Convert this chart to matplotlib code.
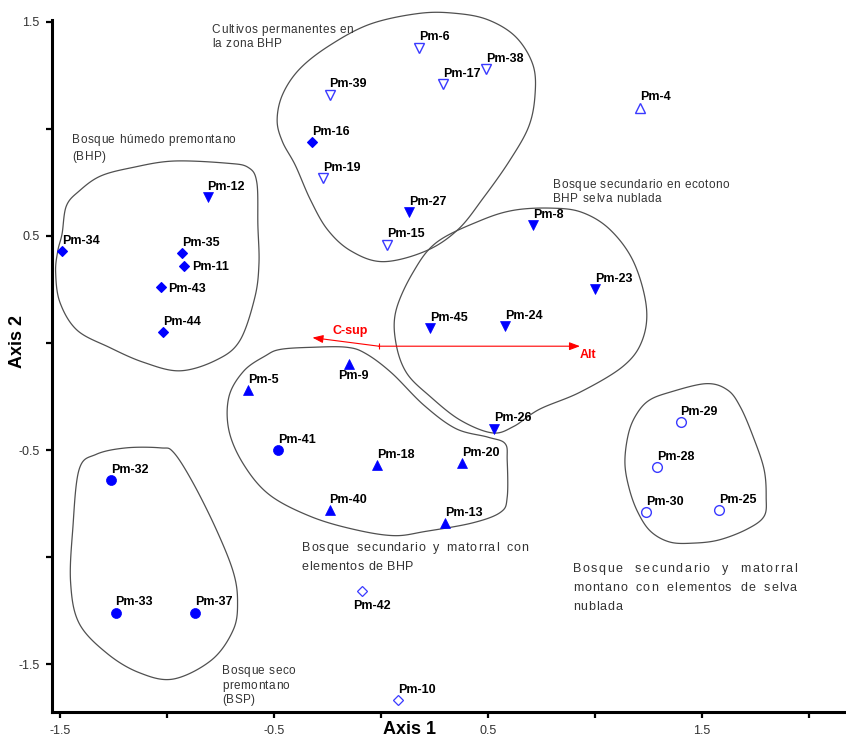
import numpy as np
import matplotlib.pyplot as plt
from matplotlib.patches import Polygon

plt.rcParams['font.family'] = ['Liberation Sans', 'DejaVu Sans']

# sample scores on the two ordination axes
names = ['Pm-34', 'Pm-35', 'Pm-11', 'Pm-43', 'Pm-44', 'Pm-16',
         'Pm-12', 'Pm-27', 'Pm-8', 'Pm-23', 'Pm-45', 'Pm-24', 'Pm-26',
         'Pm-6', 'Pm-38', 'Pm-17', 'Pm-39', 'Pm-19', 'Pm-15',
         'Pm-4',
         'Pm-5', 'Pm-9', 'Pm-18', 'Pm-20', 'Pm-40', 'Pm-13',
         'Pm-41', 'Pm-32', 'Pm-33', 'Pm-37',
         'Pm-29', 'Pm-28', 'Pm-30', 'Pm-25',
         'Pm-42', 'Pm-10']
axis1 = [-1.49, -0.93, -0.92, -1.03, -1.02, -0.32,
         -0.81, 0.13, 0.71, 1.00, 0.23, 0.58, 0.53,
         0.18, 0.49, 0.29, -0.24, -0.27, 0.03,
         1.21,
         -0.62, -0.15, -0.02, 0.38, -0.24, 0.30,
         -0.48, -1.26, -1.24, -0.87,
         1.40, 1.29, 1.24, 1.58,
         -0.09, 0.08]
axis2 = [0.43, 0.42, 0.36, 0.26, 0.05, 0.94,
         0.68, 0.61, 0.55, 0.25, 0.07, 0.08, -0.40,
         1.38, 1.28, 1.21, 1.16, 0.77, 0.46,
         1.10,
         -0.22, -0.10, -0.57, -0.56, -0.78, -0.84,
         -0.50, -0.64, -1.26, -1.26,
         -0.37, -0.58, -0.79, -0.78,
         -1.16, -1.67]
groups = ['bhp'] * 6 + ['ecotono'] * 7 + ['cultivos'] * 6 + ['pm4'] + \
         ['sec_bhp'] * 6 + ['bsp'] * 4 + ['montano'] * 4 + ['otro'] * 2

# environmental vectors (biplot)
vec_names = ['Alt', 'C-sup']
vec_x = [0.93, -0.32]
vec_y = [-0.015, 0.025]
vec_origin = (-0.01, -0.015)

xtick_vals = [-1.5, -1.0, -0.5, 0.0, 0.5, 1.0, 1.5, 2.0]
xtick_labels = ['-1.5', '', '-0.5', '', '0.5', '', '1.5', '']
ytick_vals = [-1.5, -1.0, -0.5, 0.0, 0.5, 1.0, 1.5]
ytick_labels = ['-1.5', '', '-0.5', '', '0.5', '', '1.5']

# hand drawn outlines around the groups (axis units)
hull_bhp = [(-1.49, 0.51), (-1.47, 0.64), (-1.41, 0.71), (-1.31, 0.78), (-1.16, 0.82),
            (-0.97, 0.85), (-0.72, 0.84), (-0.62, 0.82), (-0.58, 0.75), (-0.575, 0.55),
            (-0.57, 0.37), (-0.59, 0.21), (-0.66, 0.01), (-0.77, -0.08),
            (-0.94, -0.13), (-1.11, -0.09), (-1.27, -0.02), (-1.42, 0.06), (-1.50, 0.19),
            (-1.52, 0.33), (-1.51, 0.43)]
hull_cultivos = [(-0.485, 1.04), (-0.46, 1.16), (-0.38, 1.28), (-0.24, 1.39), (-0.05, 1.49),
                 (0.18, 1.54), (0.35, 1.54), (0.50, 1.51), (0.63, 1.43), (0.71, 1.30),
                 (0.72, 1.16), (0.69, 1.01), (0.60, 0.85), (0.48, 0.68), (0.36, 0.53),
                 (0.21, 0.43), (0.01, 0.38), (-0.14, 0.43), (-0.25, 0.53), (-0.33, 0.67),
                 (-0.40, 0.83), (-0.46, 0.94)]
hull_ecotono = [(0.26, 0.47), (0.46, 0.57), (0.62, 0.62), (0.80, 0.63), (0.94, 0.61),
                (1.07, 0.53), (1.18, 0.38), (1.24, 0.17), (1.22, 0.01), (1.13, -0.11),
                (0.93, -0.23), (0.74, -0.31), (0.62, -0.39), (0.52, -0.42), (0.37, -0.36),
                (0.23, -0.25), (0.12, -0.14), (0.07, 0.0), (0.07, 0.15), (0.15, 0.33)]
hull_sec = [(-0.47, -0.03), (-0.32, -0.02), (-0.16, -0.02), (-0.07, -0.05), (0.05, -0.14),
            (0.20, -0.29), (0.35, -0.40), (0.50, -0.44), (0.58, -0.47),
            (0.59, -0.55), (0.59, -0.72), (0.56, -0.79), (0.43, -0.84), (0.21, -0.88),
            (0.06, -0.90), (-0.13, -0.87), (-0.33, -0.81), (-0.52, -0.71), (-0.64, -0.57),
            (-0.71, -0.41), (-0.71, -0.25), (-0.64, -0.13), (-0.54, -0.06)]
hull_bsp = [(-1.19, -0.49), (-1.03, -0.49), (-0.97, -0.51), (-0.88, -0.65), (-0.77, -0.87),
            (-0.69, -1.07), (-0.67, -1.21), (-0.69, -1.34), (-0.79, -1.48), (-0.97, -1.57),
            (-1.13, -1.54), (-1.28, -1.45), (-1.41, -1.31), (-1.45, -1.12), (-1.44, -0.87),
            (-1.41, -0.59), (-1.33, -0.52)]
hull_montano = [(1.14, -0.56), (1.155, -0.43), (1.19, -0.34), (1.25, -0.27), (1.35, -0.23),
                (1.52, -0.19), (1.62, -0.22), (1.68, -0.30), (1.74, -0.44), (1.79, -0.59),
                (1.80, -0.72), (1.79, -0.81), (1.71, -0.87), (1.58, -0.92), (1.46, -0.935),
                (1.35, -0.93), (1.26, -0.88), (1.20, -0.79), (1.16, -0.68)]

blue = '#0000ff'
blue_light = '#3a3aff'
styles = {
    'bhp': dict(marker='D', ms=4.6, mfc=blue, mec=blue, mew=0.8),
    'ecotono': dict(marker='v', ms=7, mfc=blue, mec=blue, mew=0.5),
    'cultivos': dict(marker='v', ms=7, mfc='white', mec=blue_light, mew=1.0),
    'pm4': dict(marker='^', ms=7, mfc='white', mec=blue_light, mew=1.0),
    'sec_bhp': dict(marker='^', ms=7, mfc=blue, mec=blue, mew=0.5),
    'bsp': dict(marker='o', ms=7.2, mfc=blue, mec=blue, mew=0.5),
    'montano': dict(marker='o', ms=7, mfc='white', mec=blue_light, mew=1.0),
    'otro': dict(marker='D', ms=4.6, mfc='white', mec=blue_light, mew=0.9),
}
label_side = {'Pm-9': 'below', 'Pm-42': 'below2', 'Pm-11': 'right', 'Pm-43': 'right'}


def smooth_closed(pts, n=24):
    P = np.asarray(pts, dtype=float)
    m = len(P)
    t = np.linspace(0, 1, n, endpoint=False)[:, None]
    seg = []
    for i in range(m):
        p0, p1, p2, p3 = P[i - 1], P[i], P[(i + 1) % m], P[(i + 2) % m]
        seg.append(0.5 * (2 * p1 + (-p0 + p2) * t + (2 * p0 - 5 * p1 + 4 * p2 - p3) * t ** 2
                          + (-p0 + 3 * p1 - 3 * p2 + p3) * t ** 3))
    return np.vstack(seg)


fig = plt.figure(figsize=(8.46, 7.40), dpi=100)
ax = fig.add_axes([52 / 846, 28 / 740, 1 - 52 / 846, 692 / 740])
ax.set_xlim(-1.537, 2.173)
ax.set_ylim(-1.724, 1.509)

for hull in [hull_bhp, hull_cultivos, hull_ecotono, hull_sec, hull_bsp, hull_montano]:
    ax.add_patch(Polygon(smooth_closed(hull), closed=True, fill=False, edgecolor='#505050',
                         lw=0.9, clip_on=False, zorder=1))

for g, st in styles.items():
    xs = [x for x, gg in zip(axis1, groups) if gg == g]
    ys = [y for y, gg in zip(axis2, groups) if gg == g]
    ax.plot(xs, ys, ls='none', zorder=3, **st)

for nm, x, y in zip(names, axis1, axis2):
    side = label_side.get(nm, 'above')
    if side == 'above':
        off, ha, va = (0, 5.2), 'left', 'baseline'
    elif side == 'right':
        off, ha, va = (5.5, -1), 'left', 'center'
    elif side == 'below':
        off, ha, va = (3.5, -4), 'center', 'top'
    else:
        off, ha, va = (-6, -6), 'left', 'top'
    ax.annotate(nm, (x, y), xytext=off, textcoords='offset points', ha=ha, va=va,
                fontsize=9, fontweight='bold', color='black', zorder=4)

# vectors
for nm, vx, vy in zip(vec_names, vec_x, vec_y):
    ax.annotate('', xy=(vx, vy), xytext=vec_origin,
                arrowprops=dict(arrowstyle='-|>,head_length=0.8,head_width=0.3', color='red',
                                lw=0.8, mutation_scale=8, shrinkA=0, shrinkB=0), zorder=5)
ax.plot(*vec_origin, marker='|', ms=5, color='red', mew=0.8, zorder=5)
ax.annotate('Alt', (vec_x[0], vec_y[0]), xytext=(6, -6.5), textcoords='offset points',
            ha='center', va='center', fontsize=9, fontweight='bold', color='red')
ax.annotate('C-sup', (vec_x[1], vec_y[1]), xytext=(27, 5), textcoords='offset points',
            ha='center', va='center', fontsize=9, fontweight='bold', color='red')

renderer = fig.canvas.get_renderer()
inv = ax.transData.inverted()


def measure(s, kw):
    if not s:
        return 0.0
    t = ax.text(0, 0, s, **kw)
    w = t.get_window_extent(renderer).width
    t.remove()
    return w


def tracked(line, x0, y, kw, track=0.5, x1=None, word_w=5):
    # draws a line letter by letter with extra spacing (or stretched to x1)
    words = line.split(' ')
    space = measure('n n', kw) - measure('nn', kw)
    X0 = ax.transData.transform((x0, y))[0]
    info = []
    for w in words:
        lefts = [measure(w[:k + 1], kw) - measure(w[k], kw) for k in range(len(w))]
        info.append((w, lefts, measure(w, kw)))
    if x1 is not None:
        X1 = ax.transData.transform((x1, y))[0]
        n_in = sum(len(w) - 1 for w in words)
        n_bt = len(words) - 1
        base = sum(i[2] for i in info) + n_bt * space
        track = (X1 - X0 - base) / (n_in + word_w * n_bt)
    else:
        word_w = 2
    pos = X0
    for w, lefts, wd in info:
        for k, ch in enumerate(w):
            xd = inv.transform((pos + lefts[k] + k * track, 0))[0]
            ax.text(xd, y, ch, ha='left', va='baseline', **kw)
        pos += wd + (len(w) - 1) * track + space + word_w * track


# group descriptions
txt_kw = dict(fontsize=8.5, color='#333333')
for lines, x, y0, step in [
        (['Cultivos permanentes en', 'la zona BHP'], -0.79, 1.449, 0.065),
        (['Bosque húmedo premontano', '(BHP)'], -1.444, 0.935, 0.080),
        (['Bosque secundario en ecotono', 'BHP selva nublada'], 0.804, 0.724, 0.065),
        (['Bosque seco', 'premontano', '(BSP)'], -0.743, -1.547, 0.068)]:
    for i, ln in enumerate(lines):
        tracked(ln, x, y0 - i * step, txt_kw, track=0.5)

jkw = dict(fontsize=9, color='#333333')
tracked('Bosque secundario y matorral con', -0.369, -0.972, jkw, x1=0.687)
tracked('elementos de BHP', -0.369, -1.061, jkw, track=0.5)
tracked('Bosque secundario y matorral', 0.897, -1.070, jkw, x1=1.944, word_w=6)
tracked('montano con elementos de selva', 0.897, -1.159, jkw, x1=1.944, word_w=6)
tracked('nublada', 0.897, -1.248, jkw, track=0.8)

ax.spines['top'].set_visible(False)
ax.spines['right'].set_visible(False)
ax.spines['left'].set_linewidth(2.2)
ax.spines['bottom'].set_linewidth(2.2)
ax.set_xticks(xtick_vals, xtick_labels)
ax.set_yticks(ytick_vals, ytick_labels)
ax.tick_params(direction='out', length=4, width=1.6, labelsize=9, labelcolor='#333333', pad=5)

fig.text(409 / 846, 1 - 730 / 740, 'Axis 1', ha='center', va='center', fontsize=13,
         fontweight='bold')
fig.text(18 / 846, 1 - 342 / 740, 'Axis 2', ha='center', va='center', rotation=90,
         fontsize=13, fontweight='bold')

fig.savefig('out.png', dpi=100)
